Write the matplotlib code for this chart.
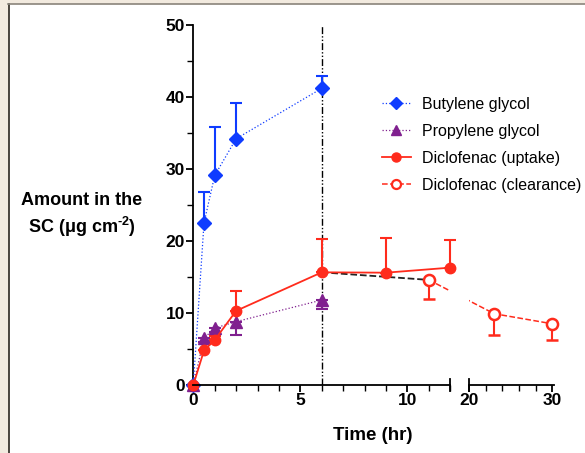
import numpy as np
import matplotlib
matplotlib.use('Agg')
import matplotlib.pyplot as plt
from matplotlib.lines import Line2D
from matplotlib.patches import Rectangle

plt.rcParams['font.family'] = ['Liberation Sans', 'DejaVu Sans']
plt.rcParams['mathtext.fontset'] = 'custom'
plt.rcParams['mathtext.rm'] = 'Liberation Sans:bold'
plt.rcParams['mathtext.it'] = 'Liberation Sans:bold'
plt.rcParams['mathtext.bf'] = 'Liberation Sans:bold'

# data
bg_time = [0, 0.5, 1, 2, 6]
bg_amount = [0, 22.5, 29.1, 34.2, 41.2]
bg_err_up = [0, 4.3, 6.8, 5.0, 1.7]

pg_time = [0, 0.5, 1, 2, 6]
pg_amount = [0, 6.5, 7.9, 8.8, 11.8]
pg_err_down = [0, 0.5, 0.6, 1.8, 1.2]

up_time = [0, 0.5, 1, 2, 6, 9, 12]
up_amount = [0, 4.8, 6.25, 10.3, 15.65, 15.6, 16.3]
up_err_up = [0, 0, 0.6, 2.7, 4.6, 4.8, 3.9]

cl_time = [6, 11, 23, 30]
cl_amount = [15.65, 14.6, 9.9, 8.5]
cl_err_down = [0, 2.7, 3.0, 2.2]

blue = '#0f3cff'
purple = '#80208f'
red = '#ff2b1c'

# broken x axis: 0-12 then 20-30 compressed
GAP = 0.89
R = 0.388


def fwd(x):
    x = np.asarray(x, dtype=float)
    return np.where(x <= 12, x,
                    np.where(x >= 20, 12 + GAP + (x - 20) * R,
                             12 + (x - 12) * GAP / 8))


def inv(y):
    y = np.asarray(y, dtype=float)
    return np.where(y <= 12, y,
                    np.where(y >= 12 + GAP, 20 + (y - 12 - GAP) / R,
                             12 + (y - 12) * 8 / GAP))


fig = plt.figure(figsize=(5.85, 4.53), dpi=100)
ax = fig.add_axes([193.3 / 585, 68 / 453, 360.7 / 585, 360 / 453])
ax.set_xscale('function', functions=(fwd, inv))
ax.set_xlim(0, 30.2)
ax.set_ylim(0, 50)

ax.axvline(6, color='black', lw=1.0, ls=(0, (5, 1.5, 1, 1.5, 1, 1.5)), zorder=1)

ax.errorbar(bg_time, bg_amount, yerr=[np.zeros(len(bg_err_up)), bg_err_up],
            color=blue, ls=':', lw=0.9, marker='D', ms=7.5, capsize=4,
            elinewidth=1.5, capthick=1.5, clip_on=False, zorder=3)
ax.errorbar(pg_time, pg_amount, yerr=[pg_err_down, np.zeros(len(pg_err_down))],
            color=purple, ls=':', lw=0.9, marker='^', ms=8, capsize=4,
            elinewidth=1.5, capthick=1.5, clip_on=False, zorder=3)
ax.errorbar(up_time, up_amount, yerr=[np.zeros(len(up_err_up)), up_err_up],
            color=red, ls='-', lw=1.3, marker='o', ms=7.5, capsize=4,
            elinewidth=1.5, capthick=1.5, clip_on=False, zorder=3)
ax.plot(cl_time[:2], cl_amount[:2], color='#222222', ls='--', lw=1.3, zorder=2)
ax.errorbar(cl_time[1:], cl_amount[1:], yerr=[cl_err_down[1:], np.zeros(3)],
            color=red, ls='--', lw=1.1, marker='o', ms=8, mfc='white', mew=1.8,
            capsize=4, elinewidth=1.5, capthick=1.5, clip_on=False, zorder=2)

# hide the break region (only the clearance line crosses it)
ax.axvspan(12, 20, color='white', zorder=2.5, lw=0)

for s in ['top', 'right', 'bottom']:
    ax.spines[s].set_visible(False)
ax.spines['left'].set_linewidth(1.3)
xt = ax.get_xaxis_transform()
ax.plot([0, 12], [0, 0], color='black', lw=1.3, transform=xt, clip_on=False, zorder=6)
ax.plot([20, 30.2], [0, 0], color='black', lw=1.3, transform=xt, clip_on=False, zorder=6)
for bx in [12, 20]:
    ax.plot([bx, bx], [-0.017, 0.017], color='black', lw=1.3, transform=xt,
            clip_on=False, zorder=6)

ax.set_xticks([0, 5, 10, 20, 30])
ax.set_xticks([1, 2, 3, 4, 6, 7, 8, 9, 11, 12, 22, 24, 26, 28], minor=True)
ax.set_yticks([0, 10, 20, 30, 40, 50])
ax.set_yticks([5, 15, 25, 35, 45], minor=True)
ax.tick_params(which='major', length=5, width=1.3, pad=1, labelsize=12.5)
ax.tick_params(which='minor', length=4, width=1.0)
for lab in ax.get_xticklabels() + ax.get_yticklabels():
    lab.set_fontweight('bold')

fig.text(373 / 585, 1 - 435 / 453, 'Time (hr)', ha='center', va='center',
         fontsize=13.5, fontweight='bold')
fig.text(82 / 585, 1 - 215.5 / 453, 'Amount in the\nSC (\u03bcg cm$^{\\text{-2}}$)',
         ha='center', va='center', fontsize=13, fontweight='bold',
         multialignment='center', linespacing=1.3)

handles = [
    Line2D([], [], color=blue, ls=':', lw=0.9, marker='D', ms=6),
    Line2D([], [], color=purple, ls=':', lw=0.9, marker='^', ms=7),
    Line2D([], [], color=red, ls='-', lw=1.3, marker='o', ms=6.5),
    Line2D([], [], color=red, ls='--', lw=1.1, marker='o', ms=6.5, mfc='white', mew=1.6),
]
labels = ['Butylene glycol', 'Propylene glycol', 'Diclofenac (uptake)',
          'Diclofenac (clearance)']
fig.legend(handles, labels, loc='upper left', bbox_to_anchor=(382 / 585, 1 - 97 / 453),
           frameon=False, fontsize=11.5, handlelength=1.8, handletextpad=0.7,
           labelspacing=0.75, borderpad=0, borderaxespad=0)

# page frame
fig.patches.append(Rectangle((0, 0), 8 / 585, 1, transform=fig.transFigure,
                             color='#f2eadf', zorder=0))
fig.patches.append(Rectangle((0, 1 - 3 / 453), 1, 3 / 453, transform=fig.transFigure,
                             color='#f2eadf', zorder=0))
fig.lines.append(Line2D([8.7 / 585, 8.7 / 585], [0, 1 - 4 / 453], transform=fig.transFigure,
                        color='#2b2620', lw=1.2))
fig.lines.append(Line2D([8 / 585, 1], [1 - 3.8 / 453, 1 - 3.8 / 453],
                        transform=fig.transFigure, color='#8a857c', lw=1.2))

fig.savefig('out.png', dpi=100)
